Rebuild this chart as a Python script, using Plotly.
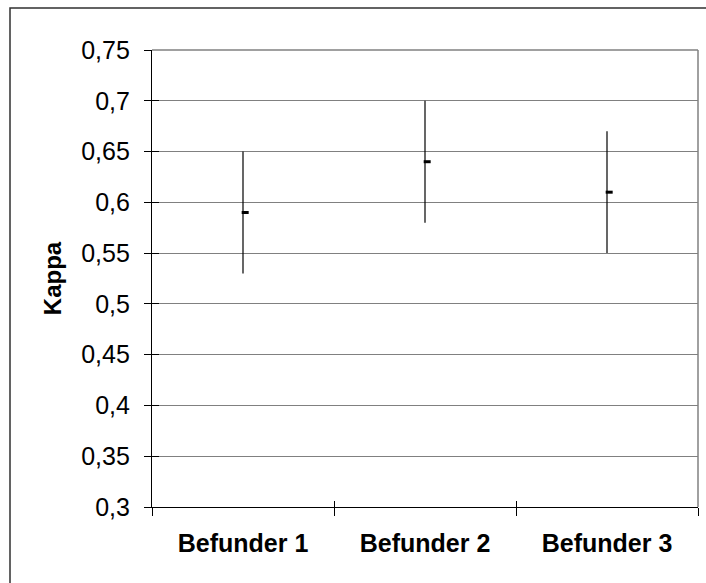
import plotly.graph_objects as go

categories = ["Befunder 1", "Befunder 2", "Befunder 3"]
kappa_mean = [0.59, 0.64, 0.61]
kappa_low = [0.53, 0.58, 0.55]
kappa_high = [0.65, 0.70, 0.67]
y_ticks = [0.3, 0.35, 0.4, 0.45, 0.5, 0.55, 0.6, 0.65, 0.7, 0.75]
y_tick_labels = [f"{v:g}".replace(".", ",") for v in y_ticks]

idx = list(range(len(categories)))
bounds = [i - 0.5 for i in idx] + [len(categories) - 0.5]
err_plus = [h - m for h, m in zip(kappa_high, kappa_mean)]
err_minus = [m - l for m, l in zip(kappa_mean, kappa_low)]
MARKER_OFFSET = 0.012

W, H = 706, 583
L, R, T, B = 152, 8, 50, 76
pw, ph = W - L - R, H - T - B
FONT = "Liberation Sans, Arial, sans-serif"

fig = go.Figure()
fig.add_trace(go.Scatter(
    x=idx, y=kappa_mean, mode="markers",
    marker=dict(size=1, color="rgba(0,0,0,0)"),
    error_y=dict(type="data", symmetric=False, array=err_plus,
                 arrayminus=err_minus, width=0, thickness=1.2, color="black"),
    showlegend=False, hoverinfo="skip"))
fig.add_trace(go.Scatter(
    x=[i + MARKER_OFFSET for i in idx], y=kappa_mean, mode="markers",
    marker=dict(symbol="line-ew", size=5, line=dict(width=3, color="black")),
    showlegend=False))

rng_x = [-0.5, len(categories) - 0.5]
rng_y = [0.3, 0.75]

fig.update_layout(
    width=W, height=H,
    margin=dict(l=L, r=R, t=T, b=B, pad=0),
    paper_bgcolor="white", plot_bgcolor="white",
    font=dict(family=FONT, color="black"),
    xaxis=dict(range=rng_x, tickmode="array", tickvals=idx,
               ticktext=[f"<b>{c}</b>" for c in categories],
               ticks="", showgrid=False, zeroline=False,
               showline=True, linecolor="black", linewidth=1.2,
               tickfont=dict(size=25, family=FONT),
               ticklabelstandoff=14),
    xaxis2=dict(range=rng_x, overlaying="x", anchor="y", side="bottom",
                tickmode="array", tickvals=bounds, showticklabels=False,
                ticks="outside", ticklen=8, tickcolor="black", tickwidth=1.2,
                showgrid=False, zeroline=False, showline=False),
    xaxis3=dict(range=rng_x, overlaying="x", anchor="y", side="bottom",
                tickmode="array", tickvals=bounds, showticklabels=False,
                ticks="inside", ticklen=6, tickcolor="black", tickwidth=1.2,
                showgrid=False, zeroline=False, showline=False),
    yaxis=dict(range=rng_y, tickmode="array", tickvals=y_ticks, ticktext=y_tick_labels,
               ticks="outside", ticklen=7, tickcolor="black", tickwidth=1.2,
               showgrid=True, gridcolor="#808080", gridwidth=1.2, zeroline=False,
               showline=True, linecolor="black", linewidth=1.2,
               tickfont=dict(size=25), ticklabelstandoff=9,
               title=dict(text="<b>Kappa</b>", font=dict(size=24), standoff=12)),
    yaxis2=dict(range=rng_y, overlaying="y", anchor="x", side="left",
                tickmode="array", tickvals=y_ticks, showticklabels=False,
                ticks="inside", ticklen=7, tickcolor="black", tickwidth=1.2,
                showgrid=False, zeroline=False, showline=False),
)

fig.add_trace(go.Scatter(x=[None], y=[None], xaxis="x2", yaxis="y", showlegend=False))
fig.add_trace(go.Scatter(x=[None], y=[None], xaxis="x3", yaxis="y", showlegend=False))
fig.add_trace(go.Scatter(x=[None], y=[None], xaxis="x", yaxis="y2", showlegend=False))

fig.add_shape(type="line", xref="paper", yref="paper", x0=0, x1=1, y0=1, y1=1,
              line=dict(color="#808080", width=1.5))
fig.add_shape(type="line", xref="paper", yref="paper", x0=1, x1=1, y0=0, y1=1,
              line=dict(color="#808080", width=1.5))
fig.add_shape(type="rect", xref="paper", yref="paper",
              x0=(10 - L) / pw, x1=(W + 6 - L) / pw,
              y0=-(B + 6) / ph, y1=(ph + T - 8) / ph,
              line=dict(color="#303030", width=1.5), layer="above")

fig.write_html("out.html")
